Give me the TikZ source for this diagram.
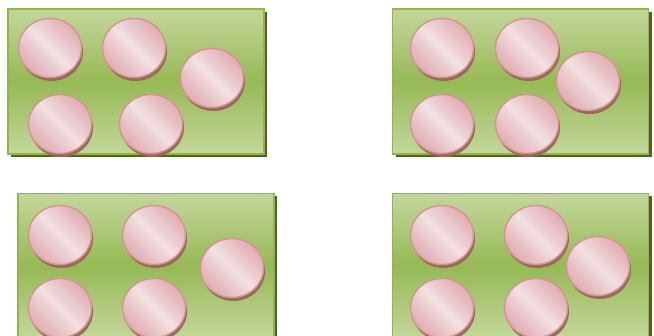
\documentclass[tikz,border=0pt]{standalone}
\usetikzlibrary{shapes.geometric,shadows}
\definecolor{greenlight}{RGB}{196,215,155}
\definecolor{greenmid}{RGB}{150,185,85}
\definecolor{greenline}{RGB}{145,180,75}
\definecolor{greendark}{RGB}{79,98,40}
\definecolor{coinpink}{RGB}{224,172,177}
\definecolor{coinlight}{RGB}{242,224,226}
\definecolor{coinline}{RGB}{214,146,148}
\definecolor{rimbrown}{RGB}{150,108,88}

\begin{document}
\begin{tikzpicture}[
    x=1pt, y=-1pt,
    panel/.style={rectangle, draw=greenline, line width=1.2pt,
                  minimum width=256pt, minimum height=145pt,
                  top color=greenlight, bottom color=greenlight, middle color=greenmid,
                  drop shadow={shadow xshift=3pt, shadow yshift=-3pt,
                               fill=greendark, opacity=1}},
    coin/.style={ellipse, draw=coinline, line width=1.4pt, inner sep=0pt,
                 minimum width=63pt, minimum height=59pt,
                 left color=coinpink, right color=coinpink, middle color=coinlight,
                 shading angle=135,
                 drop shadow={shadow xshift=1.5pt, shadow yshift=-3.5pt,
                              fill=rimbrown, opacity=1}}
  ]
  \clip (0,0) rectangle (654,336);
  \useasboundingbox (0,0) rectangle (654,336);

  % top left
  \node[panel] (tl) at (136,81.5) {};
  \node[coin] (tl1) at (50,48) {};
  \node[coin] (tl2) at (134,48) {};
  \node[coin] (tl3) at (212,78) {};
  \node[coin] (tl4) at (60,124) {};
  \node[coin] (tl5) at (151,124) {};

  % top right
  \node[panel] (tr) at (520.5,81.5) {};
  \node[coin] (tr1) at (442,48) {};
  \node[coin] (tr2) at (527,48) {};
  \node[coin] (tr3) at (588,81) {};
  \node[coin] (tr4) at (442,124) {};
  \node[coin] (tr5) at (527,124) {};

  % bottom left
  \node[panel] (bl) at (146,266) {};
  \node[coin] (bl1) at (60,235) {};
  \node[coin] (bl2) at (154,235) {};
  \node[coin] (bl3) at (232,268) {};
  \node[coin] (bl4) at (60,308) {};
  \node[coin] (bl5) at (154,308) {};

  % bottom right
  \node[panel] (br) at (520.5,266) {};
  \node[coin] (br1) at (442,235) {};
  \node[coin] (br2) at (536,235) {};
  \node[coin] (br3) at (598,266) {};
  \node[coin] (br4) at (442,308) {};
  \node[coin] (br5) at (536,308) {};
\end{tikzpicture}
\end{document}
